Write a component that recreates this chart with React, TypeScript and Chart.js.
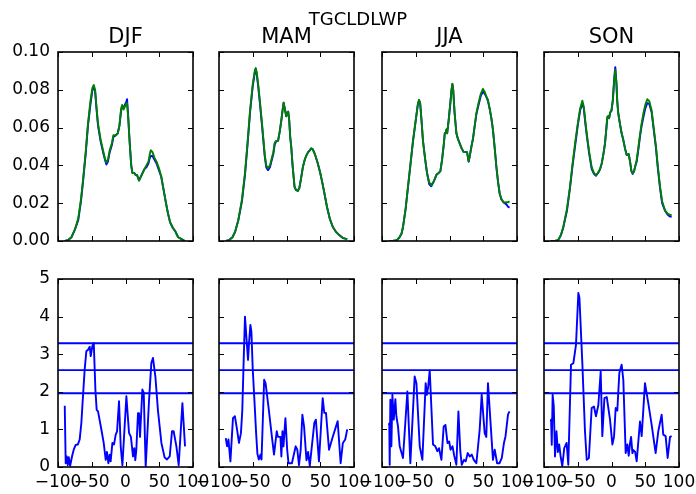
import React, { useEffect, useRef } from "react";
import { Chart, registerables } from "chart.js";

Chart.register(...registerables);

// ---------------- data ----------------
const SUPTITLE = "TGCLDLWP";
const SEASONS = ["DJF", "MAM", "JJA", "SON"];

const X_TICKS = [-100, -50, 0, 50, 100];
const X_TICK_LABELS = ["\u2212100", "\u221250", "0", "50", "100"];
const TOP_Y_TICKS = [0, 0.02, 0.04, 0.06, 0.08, 0.1];
const TOP_Y_LABELS = ["0.00", "0.02", "0.04", "0.06", "0.08", "0.10"];
const SIG_Y_TICKS = [0, 1, 2, 3, 4, 5];
const SIG_Y_LABELS = ["0", "1", "2", "3", "4", "5"];
const SIG_LEVELS = [1.96, 2.576, 3.291];

// DJF top
const djfTopLat = [-90, -85, -80, -75, -70, -66, -63, -59, -55.6, -52, -49, -47, -45, -43, -40.7, -37, -33.3, -30, -28.3, -26, -23.4, -20, -18, -14, -11.5, -9, -6.5, -5, -3, -1, 1, 2.3, 4, 6.2, 8.5, 10.2, 13, 15, 17, 20, 24, 28, 31, 34, 36, 37.5, 40, 43, 46, 50, 53, 56, 60, 63, 66, 70, 74, 78, 83, 88];
const djfTopGreen = [0, 0.0005, 0.002, 0.006, 0.012, 0.022, 0.032, 0.047, 0.062, 0.074, 0.081, 0.0826, 0.080, 0.071, 0.062, 0.054, 0.048, 0.043, 0.0415, 0.043, 0.048, 0.052, 0.056, 0.056, 0.057, 0.061, 0.070, 0.072, 0.0695, 0.071, 0.0725, 0.073, 0.065, 0.052, 0.040, 0.036, 0.036, 0.035, 0.035, 0.032, 0.035, 0.038, 0.040, 0.042, 0.046, 0.048, 0.047, 0.044, 0.042, 0.038, 0.034, 0.028, 0.020, 0.0145, 0.010, 0.007, 0.005, 0.002, 0.001, 0.0];
const djfTopBlue = [0, 0.0005, 0.002, 0.006, 0.011, 0.021, 0.031, 0.046, 0.061, 0.072, 0.080, 0.0815, 0.079, 0.070, 0.061, 0.053, 0.047, 0.0425, 0.0405, 0.042, 0.047, 0.051, 0.055, 0.056, 0.057, 0.061, 0.069, 0.0715, 0.070, 0.072, 0.0735, 0.075, 0.066, 0.052, 0.040, 0.036, 0.036, 0.035, 0.035, 0.032, 0.035, 0.038, 0.039, 0.041, 0.044, 0.045, 0.045, 0.043, 0.041, 0.037, 0.034, 0.028, 0.020, 0.0145, 0.010, 0.007, 0.005, 0.002, 0.001, 0.0];

// MAM top
const mamTopLat = [-90, -85, -80, -76, -71.4, -66, -61.5, -57.5, -54, -50, -47, -45.6, -44, -42, -39.7, -36, -32.3, -30, -27.4, -24.5, -22.4, -19.5, -17.5, -15, -12.5, -10, -7.6, -5.5, -4.3, -2.5, -0.4, 1.2, 2.6, 4, 5.5, 7, 9, 11.9, 14, 16.8, 19, 21.5, 24.2, 27, 29.2, 32, 34.5, 36.6, 39, 42, 46.4, 50, 53, 56.3, 60, 64, 68.6, 73, 78.5, 84, 90];
const mamTopGreen = [0, 0.0005, 0.002, 0.005, 0.011, 0.022, 0.036, 0.053, 0.069, 0.083, 0.090, 0.0915, 0.089, 0.083, 0.075, 0.061, 0.046, 0.040, 0.0385, 0.040, 0.043, 0.047, 0.052, 0.053, 0.053, 0.058, 0.064, 0.070, 0.0733, 0.070, 0.066, 0.068, 0.0685, 0.064, 0.055, 0.050, 0.040, 0.0287, 0.027, 0.0265, 0.028, 0.033, 0.039, 0.043, 0.045, 0.047, 0.048, 0.049, 0.0485, 0.046, 0.041, 0.036, 0.031, 0.025, 0.018, 0.012, 0.0074, 0.005, 0.003, 0.0015, 0.001];
const mamTopBlue = [0, 0.0005, 0.002, 0.005, 0.011, 0.021, 0.035, 0.052, 0.068, 0.082, 0.089, 0.091, 0.088, 0.082, 0.074, 0.060, 0.045, 0.039, 0.0375, 0.039, 0.042, 0.046, 0.051, 0.053, 0.053, 0.058, 0.064, 0.070, 0.073, 0.070, 0.066, 0.068, 0.068, 0.064, 0.055, 0.050, 0.040, 0.0287, 0.027, 0.0265, 0.028, 0.033, 0.039, 0.043, 0.045, 0.047, 0.048, 0.049, 0.0485, 0.046, 0.041, 0.036, 0.031, 0.025, 0.018, 0.012, 0.0074, 0.005, 0.003, 0.0015, 0.001];

// JJA top
const jjaTopLat = [-90, -84, -78, -74, -71, -68.9, -65, -61.5, -58, -54, -50, -47, -45.2, -43.5, -41.5, -39.3, -36, -33.3, -30, -27, -24, -21.5, -19.4, -16, -13.5, -11, -8.5, -7, -5.5, -4.5, -3.5, -1.5, 1, 3, 4.3, 5.5, 7.5, 10.2, 12.5, 15.1, 18, 21, 24, 26, 28.4, 30, 32.5, 34.8, 37, 39.8, 43, 46.5, 49.6, 52, 55, 57, 59.5, 62, 64.4, 67, 69.5, 72, 74.4, 77, 80.3, 84, 87, 89];
const jjaTopGreen = [0, 0, 0.0005, 0.002, 0.004, 0.0074, 0.017, 0.0287, 0.040, 0.0534, 0.064, 0.072, 0.0747, 0.073, 0.064, 0.053, 0.043, 0.036, 0.031, 0.0296, 0.031, 0.033, 0.035, 0.036, 0.037, 0.043, 0.051, 0.057, 0.057, 0.059, 0.057, 0.063, 0.072, 0.080, 0.0832, 0.080, 0.068, 0.057, 0.054, 0.0517, 0.049, 0.047, 0.047, 0.047, 0.042, 0.045, 0.050, 0.0543, 0.060, 0.0676, 0.073, 0.078, 0.0805, 0.079, 0.076, 0.0747, 0.070, 0.065, 0.0588, 0.049, 0.039, 0.031, 0.025, 0.022, 0.0204, 0.0205, 0.0205, 0.021];
const jjaTopBlue = [0, 0, 0.0005, 0.002, 0.004, 0.0074, 0.017, 0.0285, 0.040, 0.053, 0.064, 0.072, 0.0745, 0.073, 0.064, 0.053, 0.043, 0.036, 0.030, 0.029, 0.031, 0.033, 0.035, 0.036, 0.037, 0.043, 0.051, 0.057, 0.057, 0.059, 0.057, 0.063, 0.072, 0.080, 0.083, 0.080, 0.068, 0.057, 0.054, 0.0517, 0.049, 0.047, 0.047, 0.047, 0.042, 0.045, 0.050, 0.054, 0.060, 0.067, 0.072, 0.077, 0.079, 0.078, 0.076, 0.074, 0.070, 0.065, 0.0588, 0.049, 0.039, 0.031, 0.025, 0.022, 0.0204, 0.0195, 0.018, 0.0177];

// SON top
const sonTopLat = [-90, -84, -79, -75, -71.4, -66, -61.5, -58, -54, -50, -46.5, -43.2, -41, -39, -36.7, -33, -29.3, -26, -23, -20, -17, -14.5, -12, -9.6, -7.5, -6.2, -5, -3.5, -2, 0, 2, 4, 5.6, 7.3, 8.5, 10, 12.5, 15, 17.5, 20, 22.5, 24, 25.5, 27.5, 29.5, 31.4, 33.5, 35.5, 37.3, 40, 42.5, 44.7, 47.5, 50, 53, 56, 59.5, 62.5, 65.9, 68.5, 71.9, 75, 79.3, 83, 86, 89.1];
const sonTopGreen = [0, 0, 0.0005, 0.003, 0.0074, 0.017, 0.0287, 0.040, 0.0517, 0.062, 0.070, 0.0742, 0.071, 0.064, 0.057, 0.047, 0.039, 0.036, 0.0349, 0.036, 0.038, 0.041, 0.046, 0.0517, 0.060, 0.0658, 0.066, 0.065, 0.068, 0.069, 0.074, 0.085, 0.0906, 0.083, 0.074, 0.0676, 0.062, 0.057, 0.0534, 0.049, 0.0455, 0.0455, 0.046, 0.042, 0.037, 0.0358, 0.037, 0.040, 0.0428, 0.050, 0.057, 0.0623, 0.068, 0.072, 0.075, 0.074, 0.069, 0.060, 0.050, 0.040, 0.0287, 0.021, 0.0163, 0.0145, 0.014, 0.0136];
const sonTopBlue = [0, 0, 0.0005, 0.003, 0.0072, 0.016, 0.028, 0.039, 0.050, 0.061, 0.069, 0.073, 0.070, 0.063, 0.056, 0.046, 0.038, 0.0355, 0.0345, 0.036, 0.038, 0.041, 0.046, 0.0517, 0.060, 0.065, 0.066, 0.065, 0.068, 0.069, 0.075, 0.086, 0.092, 0.084, 0.074, 0.0676, 0.062, 0.057, 0.0534, 0.049, 0.0455, 0.0455, 0.046, 0.042, 0.037, 0.0355, 0.037, 0.040, 0.042, 0.049, 0.056, 0.061, 0.066, 0.070, 0.073, 0.0725, 0.068, 0.059, 0.049, 0.039, 0.028, 0.020, 0.016, 0.014, 0.013, 0.0128];

// significance (bottom row)
const djfSigLat = [-90, -88.6, -87, -85.5, -84, -82, -79, -76.7, -73.8, -70.5, -67.9, -65.4, -63, -60.5, -58, -55.5, -53, -51.5, -49, -47, -44.6, -42.7, -40.7, -35.7, -32.3, -29.3, -27.5, -25.4, -23.5, -22, -19.4, -17, -14.5, -12.5, -9.6, -7.1, -4.6, 1.3, 5.2, 8, 11.1, 13, 14.5, 16, 18.5, 20, 21.5, 25, 27, 29.9, 34.8, 38.3, 40.7, 44.3, 48.1, 53.2, 58, 61.5, 65.5, 68.9, 71.3, 75.4, 78.8, 84.3, 88.2];
const djfSig = [1.63, 0.1, 0.28, 0.05, 0.26, 0.03, 0.3, 0.46, 0.59, 0.6, 0.73, 1.17, 1.88, 2.59, 3.08, 3.12, 3.2, 2.95, 3.22, 3.3, 2.06, 1.52, 1.48, 0.99, 0.64, 0.19, 0.4, 0.1, 0.33, 0.15, 0.64, 0.6, 0.86, 0.95, 1.75, 0.55, 0.05, 1.88, 0.91, 0.8, 0.28, 0.5, 0.18, 0.45, 1.43, 1.43, 0.8, 2.06, 1.98, 0.0, 1.75, 2.77, 2.9, 2.4, 1.5, 0.64, 0.25, 0.2, 0.28, 0.95, 0.95, 0.55, 0.05, 1.7, 0.55];

const mamSigLat = [-90, -88, -86, -83.1, -79.3, -76.5, -73.3, -70.4, -67.5, -65.5, -63.5, -61.5, -60, -57, -55.5, -53.5, -52, -50, -47.6, -45, -43.1, -41, -38.5, -37, -33.1, -31, -26.7, -22, -18.5, -14.5, -12.5, -9, -7.6, -6, -4.5, -1.6, 1, 3, 8, 13.6, 16, 18.5, 21, 23.5, 26, 29.6, 32, 34.5, 41.2, 43.5, 48.1, 53.6, 56, 58.5, 63, 68, 75.8, 80.2, 83.5, 87, 90];
const mamSig = [0.77, 0.55, 0.73, 0.15, 1.3, 1.35, 1.0, 0.64, 0.9, 1.5, 2.8, 4.0, 3.6, 2.85, 3.3, 3.78, 3.6, 2.6, 1.8, 0.9, 0.35, 0.2, 0.33, 0.2, 2.32, 2.23, 1.6, 0.86, 0.33, 0.95, 0.8, 0.8, 0.28, 0.95, 0.55, 1.3, 0.46, 0.1, 0.1, 0.55, 0.46, 0.05, 0.46, 1.39, 1.08, 0.18, 0.4, 0.03, 1.17, 1.26, 0.15, 1.83, 1.44, 1.44, 0.46, 0.77, 1.22, 0.1, 0.64, 0.73, 1.0];

const jjaSigLat = [-90, -89.2, -88.6, -87.6, -86.1, -84.6, -82.6, -80.2, -78.7, -76.3, -73.8, -68.9, -62.4, -58, -51.6, -49, -44.1, -40.2, -35.3, -33.5, -31.5, -29.3, -24.4, -21, -18, -15.5, -12, -8.6, -6, -3, -0.5, 1.5, 4.5, 7, 10.2, 13.2, 16, 18.1, 21.5, 24, 27, 30, 33, 36, 39.8, 44.7, 47.7, 52.1, 54.5, 57, 60.5, 64.4, 67, 70.5, 74, 77.5, 80.7, 83, 86.7, 89];
const jjaSig = [1.12, 1.16, 0.06, 1.79, 0.55, 1.92, 1.26, 1.8, 1.35, 1.08, 0.55, 0.24, 2.01, 0.1, 2.41, 2.23, 0.55, 0.19, 2.23, 1.92, 2.15, 2.57, 0.6, 0.55, 0.42, 0.5, 0.19, 1.08, 1.12, 0.64, 0.68, 0.46, 0.55, 0.3, 0.06, 1.48, 0.42, 0.06, 0.19, 0.15, 0.37, 0.28, 0.33, 0.19, 0.1, 0.99, 1.92, 0.9, 0.8, 2.23, 1.26, 0.19, 0.46, 0.1, 0.1, 0.24, 0.64, 0.82, 1.4, 1.48];

const sonSigLat = [-90, -89.5, -88.5, -87.2, -85.5, -83.7, -81.5, -79.5, -77.5, -75.5, -72.9, -70, -66.5, -64, -60, -56.5, -52.6, -49.1, -47.5, -43.2, -39.3, -36.7, -33.5, -29.4, -26, -23, -19.5, -16, -13.6, -10.5, -7, -2.2, 1.3, 3.7, 6.2, 8.6, 11.6, 15, 17.5, 21, 23.5, 25.5, 27.5, 29, 31, 32.5, 35, 37.3, 42.2, 44.7, 49.6, 54.5, 59.5, 65.4, 69.3, 74.3, 76.7, 80.2, 83.2, 86.7, 89.1];
const sonSig = [1.21, 1.26, 0.59, 1.92, 1.61, 0.28, 0.95, 0.4, 0.6, 0.3, 0.02, 0.5, 0.64, 0.06, 2.72, 2.76, 3.25, 4.63, 4.5, 2.76, 0.95, 0.19, 0.24, 1.57, 1.61, 1.35, 1.65, 2.54, 0.82, 1.83, 1.86, 1.26, 0.6, 0.8, 1.57, 1.5, 2.5, 2.72, 2.32, 0.37, 0.6, 0.3, 0.64, 0.8, 0.37, 0.45, 0.4, 0.15, 1.21, 0.82, 2.23, 1.7, 1.12, 0.37, 0.95, 1.39, 0.86, 0.82, 0.24, 0.8, 0.82];

const TOP_SERIES = [
  { lat: djfTopLat, green: djfTopGreen, blue: djfTopBlue },
  { lat: mamTopLat, green: mamTopGreen, blue: mamTopBlue },
  { lat: jjaTopLat, green: jjaTopGreen, blue: jjaTopBlue },
  { lat: sonTopLat, green: sonTopGreen, blue: sonTopBlue },
];
const SIG_SERIES = [
  { lat: djfSigLat, v: djfSig },
  { lat: mamSigLat, v: mamSig },
  { lat: jjaSigLat, v: jjaSig },
  { lat: sonSigLat, v: sonSig },
];

// ---------------- layout / style ----------------
const FONT = "DejaVu Sans";
const BLUE = "#0000ff";
const GREEN = "#008000";
const LINE_W = 1.9;
const COL_LEFT = [58, 219, 382, 544];
const PLOT_W = 135;
const Y_AXIS_W = 58;
const RIGHT_PAD = 32;
const ROWS = [
  { canvasTop: 0, canvasH: 262, padTop: 52, plotH: 189 },
  { canvasTop: 250, canvasH: 244, padTop: 29, plotH: 188 },
];
const TICK_LEN = 5;

const zip = (xs: number[], ys: number[]) => xs.map((x, i) => ({ x, y: ys[i] }));

const framePlugin = {
  id: "frame",
  afterDatasetsDraw(chart: any, _args: any, opts: any) {
    const { ctx, chartArea: a, scales } = chart;
    ctx.save();
    ctx.strokeStyle = "#000";
    ctx.lineWidth = 1;
    ctx.beginPath();
    for (const v of X_TICKS) {
      const px = Math.round(scales.x.getPixelForValue(v)) + 0.5;
      ctx.moveTo(px, a.top);
      ctx.lineTo(px, a.top + TICK_LEN);
      ctx.moveTo(px, a.bottom);
      ctx.lineTo(px, a.bottom - TICK_LEN);
    }
    for (const v of opts.yTicks) {
      const py = Math.round(scales.y.getPixelForValue(v)) + 0.5;
      ctx.moveTo(a.left, py);
      ctx.lineTo(a.left + TICK_LEN, py);
      ctx.moveTo(a.right, py);
      ctx.lineTo(a.right - TICK_LEN, py);
    }
    ctx.stroke();
    ctx.lineWidth = 1.6;
    ctx.strokeRect(a.left, a.top, a.right - a.left, a.bottom - a.top);
    if (opts.title) {
      ctx.fillStyle = "#000";
      ctx.font = `21px "${FONT}"`;
      ctx.textAlign = "center";
      ctx.textBaseline = "alphabetic";
      ctx.fillText(opts.title, (a.left + a.right) / 2, a.top - 9);
    }
    ctx.restore();
  },
};

function Panel({ row, col }: { row: number; col: number }) {
  const ref = useRef<HTMLCanvasElement>(null);
  const r = ROWS[row];
  const width = Y_AXIS_W + PLOT_W + RIGHT_PAD;
  const left = COL_LEFT[col] - Y_AXIS_W;
  const xAxisH = r.canvasH - r.padTop - r.plotH;

  useEffect(() => {
    const isTop = row === 0;
    const yTicks = isTop ? TOP_Y_TICKS : SIG_Y_TICKS;
    const yLabels = isTop ? TOP_Y_LABELS : SIG_Y_LABELS;
    const datasets: any[] = [];
    if (isTop) {
      const s = TOP_SERIES[col];
      datasets.push({ data: zip(s.lat, s.green), borderColor: GREEN });
      datasets.push({ data: zip(s.lat, s.blue), borderColor: BLUE });
    } else {
      const s = SIG_SERIES[col];
      datasets.push({ data: zip(s.lat, s.v), borderColor: BLUE });
      for (const lvl of SIG_LEVELS) {
        datasets.push({ data: [{ x: X_TICKS[0], y: lvl }, { x: X_TICKS[X_TICKS.length - 1], y: lvl }], borderColor: BLUE });
      }
    }
    for (const d of datasets) {
      d.showLine = true;
      d.pointRadius = 0;
      d.borderWidth = LINE_W;
      d.fill = false;
      d.tension = 0;
      d.borderJoinStyle = "round";
    }
    const chart = new Chart(ref.current as HTMLCanvasElement, {
      type: "scatter",
      data: { datasets },
      options: {
        animation: false,
        responsive: false,
        maintainAspectRatio: false,
        events: [],
        layout: { padding: { top: r.padTop, right: RIGHT_PAD, left: 0, bottom: 0 } },
        plugins: {
          legend: { display: false },
          tooltip: { enabled: false },
          title: { display: false },
          frame: { yTicks, title: isTop ? SEASONS[col] : "" },
        } as any,
        scales: {
          x: {
            type: "linear",
            min: X_TICKS[0],
            max: X_TICKS[X_TICKS.length - 1],
            afterBuildTicks: (s: any) => {
              s.ticks = X_TICKS.map((v) => ({ value: v }));
            },
            afterFit: (s: any) => {
              s.height = xAxisH;
            },
            grid: { display: false, drawTicks: false },
            border: { display: false },
            ticks: {
              display: !isTop,
              autoSkip: false,
              maxRotation: 0,
              minRotation: 0,
              padding: 5,
              color: "#000",
              font: { family: FONT, size: 17 },
              callback: (_v: any, i: number) => X_TICK_LABELS[i],
            },
          },
          y: {
            type: "linear",
            min: yTicks[0],
            max: yTicks[yTicks.length - 1],
            afterBuildTicks: (s: any) => {
              s.ticks = yTicks.map((v) => ({ value: v }));
            },
            afterFit: (s: any) => {
              s.width = Y_AXIS_W;
            },
            grid: { display: false, drawTicks: false },
            border: { display: false },
            ticks: {
              display: col === 0,
              autoSkip: false,
              padding: 8,
              color: "#000",
              font: { family: FONT, size: 17 },
              callback: (_v: any, i: number) => yLabels[i],
            },
          },
        },
      } as any,
      plugins: [framePlugin],
    });
    return () => chart.destroy();
  }, [row, col]);

  return (
    <canvas
      ref={ref}
      width={width}
      height={r.canvasH}
      style={{ position: "absolute", left, top: r.canvasTop, width, height: r.canvasH }}
    />
  );
}

export default function App() {
  const panels: { row: number; col: number }[] = [];
  for (let row = 0; row < 2; row++) for (let col = 0; col < 4; col++) panels.push({ row, col });
  return (
    <div style={{ position: "absolute", left: 0, top: 0, width: 696, height: 494, background: "#fff", overflow: "hidden" }}>
      {panels.map((p) => (
        <Panel key={`${p.row}-${p.col}`} row={p.row} col={p.col} />
      ))}
      <div
        style={{
          position: "absolute",
          left: 358,
          top: 10,
          transform: "translateX(-50%)",
          fontFamily: FONT,
          fontSize: 18,
          lineHeight: "17px",
          color: "#000",
          whiteSpace: "nowrap",
          zIndex: 2,
        }}
      >
        {SUPTITLE}
      </div>
    </div>
  );
}
